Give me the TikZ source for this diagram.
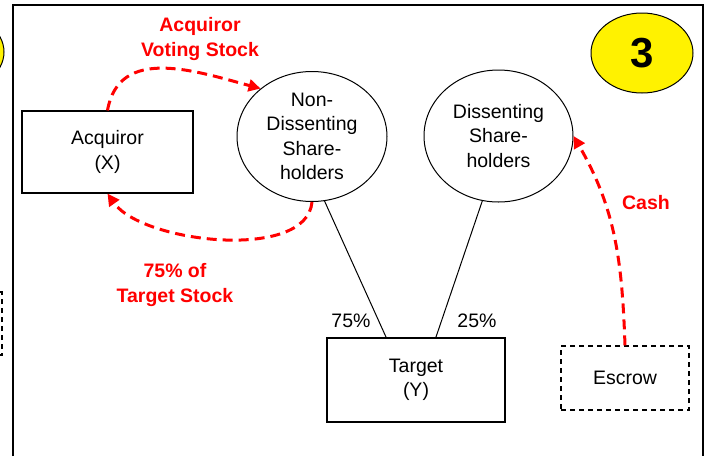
\documentclass[tikz,border=0pt]{standalone}
\usepackage{fontspec}
\setmainfont{Liberation Sans}
\usetikzlibrary{shapes.geometric, arrows.meta}
\tikzstyle{arrow} = [red, line width=3pt, dash pattern=on 10pt off 6pt, -{Triangle[length=12pt,width=12pt]}]

\begin{document}
\begin{tikzpicture}
        [
            x=1pt, y=-1pt,
            box/.style={rectangle, draw=black, line width=1.2pt, inner sep=0pt, font=\fontsize{19.5}{24.5}\selectfont, align=center},
            holder/.style={ellipse, draw=black, line width=1pt, inner xsep=0pt, inner ysep=-8pt, font=\fontsize{19.5}{24.5}\selectfont, align=center},
            flowtext/.style={text=red, font=\fontsize{19.5}{24.5}\selectfont\bfseries, align=center},
            pct/.style={font=\fontsize{19.5}{24.5}\selectfont},
        ]
    \useasboundingbox (0,0) rectangle (705,456);

    % bits of the slide before
    \begin{scope}
        \clip (0,0) rectangle (705,456);
        \draw[fill=yellow, line width=1pt] (-47,52) ellipse (51pt and 39pt);
        \draw[dash pattern=on 5pt off 4pt, line width=1.2pt] (-100,292) rectangle (2,355);
    \end{scope}

    % frame
    \draw[line width=2.5pt] (13,456) -- (13,5) -- (703,5) -- (703,456);

    \node[ellipse, draw, fill=yellow, line width=1pt, inner sep=0pt, minimum width=102pt, minimum height=80pt, font=\fontsize{42}{42}\selectfont\bfseries] (num) at (642,53) {3};

    \node[box, minimum width=171pt, minimum height=82pt] (acq) at (107.5,152) {Acquiror\\(X)};
    \node[holder, minimum width=150pt, minimum height=130pt] (nds) at (312,136.5) {Non-\\Dissenting\\Share-\\holders};
    \node[holder, minimum width=149pt, minimum height=132pt] (ds) at (498.5,136) {Dissenting\\Share-\\holders};
    \node[box, minimum width=178pt, minimum height=84pt] (tgt) at (416,380) {Target\\(Y)};
    \node[box, dash pattern=on 5pt off 4pt, minimum width=128pt, minimum height=64pt] (esc) at (625,378) {Escrow};

    \draw[line width=1pt] (tgt.125) -- (nds.-79);
    \draw[line width=1pt] (tgt.65) -- (ds.-104);
    \node[pct] (p75) at (351,321) {75\%};
    \node[pct] (p25) at (477,321) {25\%};

    \draw[arrow] (acq.north) to[out=80, in=165, looseness=1.1] (nds.137);
    \node[flowtext] (vstk) at (200,39) {Acquiror\\Voting Stock};
    \draw[arrow] (nds.south) to[out=-95, in=-55, looseness=0.75] (acq.south);
    \node[flowtext] (tstk) at (175,285) {75\% of\\Target Stock};
    \draw[arrow] (esc.north) to[out=92, in=-60] (ds.east);
    \node[flowtext] (cash) at (646,203) {Cash};
\end{tikzpicture}
\end{document}
